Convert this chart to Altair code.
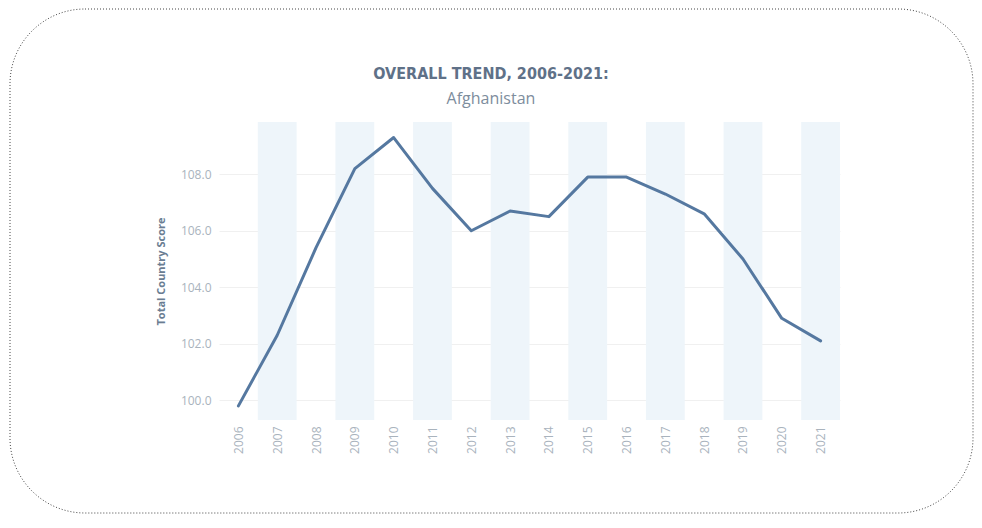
import altair as alt
import pandas as pd

years = list(range(2006, 2022))
scores = [99.8, 102.3, 105.4, 108.2, 109.3, 107.5, 106.0, 106.7, 106.5, 107.9, 107.9, 107.3, 106.6, 105.0, 102.9, 102.1]
band_years = [2007, 2009, 2011, 2013, 2015, 2017, 2019, 2021]
y_ticks = [100, 102, 104, 106, 108]
title_text = "OVERALL TREND, 2006-2021:"
subtitle_text = "Afghanistan"

df = pd.DataFrame({"Year": years, "Score": scores})
bands = pd.DataFrame({"start": [y - 0.5 for y in band_years], "end": [y + 0.5 for y in band_years]})

W, H = 621, 298
PAD_L, PAD_T = 211, 114
TOTAL_W, TOTAL_H = 966, 506

xscale = alt.Scale(domain=[2005.5, 2021.5], nice=False, zero=False)
yscale = alt.Scale(domain=[99.3, 109.85], nice=False, zero=False)

band_layer = alt.Chart(bands).mark_rect(color="#eef5fa").encode(
    x=alt.X("start:Q", scale=xscale,
            axis=alt.Axis(values=years, format="d", labelAngle=-90, title=None,
                          ticks=False, domain=False, grid=False,
                          labelColor="#a9b3bd", labelFontSize=12, labelPadding=6,
                          labelFont="Open Sans", labelAlign="right", labelBaseline="middle")),
    x2="end:Q",
    y=alt.value(0),
    y2=alt.value(H),
)

line_layer = alt.Chart(df).mark_line(color="#5578a0", strokeWidth=3, strokeCap="round", strokeJoin="round").encode(
    x=alt.X("Year:Q", scale=xscale),
    y=alt.Y("Score:Q", scale=yscale,
            axis=alt.Axis(values=y_ticks, format=".1f", title="Total Country Score",
                          ticks=False, domain=False, grid=True, gridColor="#f0f0f0",
                          labelColor="#a9b3bd", labelFontSize=12, labelPadding=8,
                          labelFont="Open Sans",
                          titleColor="#6a7d92", titleFontSize=11, titleFontWeight="bold",
                          titleFont="Open Sans", titlePadding=14)),
)

border = alt.Chart(pd.DataFrame({"a": [0]})).mark_rect(
    fill=None, stroke="#444444", strokeWidth=1, strokeDash=[1, 2], cornerRadius=75, clip=False
).encode(
    x=alt.value(2 - PAD_L), x2=alt.value(TOTAL_W - 1 - PAD_L),
    y=alt.value(1 - PAD_T), y2=alt.value(TOTAL_H - 1 - PAD_T),
)

title_layer = alt.Chart(pd.DataFrame({"t": [title_text]})).mark_text(
    font="DejaVu Sans Condensed", fontSize=16, fontWeight="bold", color="#5f7188",
    align="center", baseline="alphabetic"
).encode(text="t:N", x=alt.value(272), y=alt.value(-43))

subtitle_layer = alt.Chart(pd.DataFrame({"t": [subtitle_text]})).mark_text(
    font="Open Sans", fontSize=16, color="#7d8d9d",
    align="center", baseline="alphabetic"
).encode(text="t:N", x=alt.value(272), y=alt.value(-18))

chart = alt.layer(band_layer, line_layer, border, title_layer, subtitle_layer).properties(
    width=W, height=H,
    background="white",
    autosize=alt.AutoSizeParams(type="none"),
    padding={"left": PAD_L, "top": PAD_T, "right": TOTAL_W - PAD_L - W, "bottom": TOTAL_H - PAD_T - H},
).configure_view(stroke=None, strokeWidth=0)

chart.save("out.html", embed_options={"renderer": "svg", "actions": False})
